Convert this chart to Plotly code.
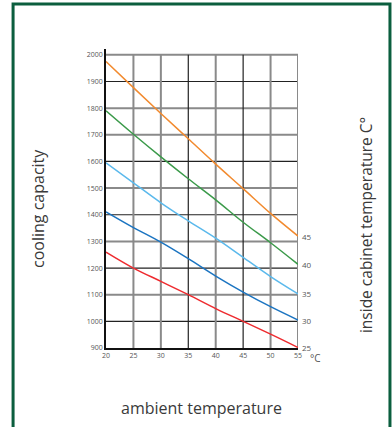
import plotly.graph_objects as go

ambient = [20, 25, 30, 35, 40, 45, 50, 55]
inside_temps = ["45", "40", "35", "30", "25"]
cap_45 = [1975, 1877, 1780, 1685, 1590, 1498, 1405, 1320]
cap_40 = [1790, 1702, 1617, 1535, 1456, 1372, 1295, 1214]
cap_35 = [1595, 1520, 1445, 1377, 1312, 1240, 1168, 1103]
cap_30 = [1411, 1352, 1297, 1235, 1170, 1110, 1055, 1005]
cap_25 = [1260, 1200, 1150, 1100, 1048, 1000, 952, 902]
series = [cap_45, cap_40, cap_35, cap_30, cap_25]
colors = ["#f28a2e", "#3b9a4a", "#5bb9ec", "#1b74c1", "#ee2b2f"]

y_ticks = [900, 1000, 1100, 1200, 1300, 1400, 1500, 1600, 1700, 1800, 1900, 2000]
y_grid_dark = [False, True, False, True, False, True, False, True, False, False, True, False]
x_grid_dark = [True, False, False, True, False, True, False, False]

fig = go.Figure()
font = "Open Sans, Noto Sans, sans-serif"

shapes = []
GRAY = dict(color="#8a8a8a", width=2)
DARK = dict(color="#222222", width=1.2)
for yv, dark in zip(y_ticks[1:], y_grid_dark[1:]):
    shapes.append(dict(type="line", xref="x", yref="y", x0=ambient[0], x1=ambient[-1],
                       y0=yv, y1=yv, line=DARK if dark else GRAY, layer="below"))
for xv, dark in zip(ambient[1:], x_grid_dark[1:]):
    shapes.append(dict(type="line", xref="x", yref="y", x0=xv, x1=xv,
                       y0=y_ticks[0], y1=y_ticks[-1], line=DARK if dark else GRAY, layer="below"))
# outer frame
shapes.append(dict(type="path", xref="paper", yref="paper",
                   path="M -0.484 -0.3 L -0.484 1.1505 L 1.479 1.1505 L 1.479 -0.3",
                   line=dict(color="#0b5e3e", width=3)))

annotations = []
for name, vals, c in zip(inside_temps, series, colors):
    fig.add_trace(go.Scatter(x=ambient, y=vals, mode="lines", line=dict(color=c, width=1.5),
                             line_shape="spline", showlegend=False, hoverinfo="skip"))
    annotations.append(dict(x=ambient[-1], y=vals[-1], xref="x", yref="y", text=name,
                            showarrow=False, xanchor="left", xshift=2,
                            font=dict(size=8, color="#555", family=font)))

annotations.append(dict(x=ambient[-1], y=y_ticks[0], xref="x", yref="y", text="°C", showarrow=False,
                        xanchor="left", yanchor="top", xshift=10, yshift=-1,
                        font=dict(size=10, color="#555", family=font)))
annotations.append(dict(x=-0.354, y=0.465, xref="paper", yref="paper", text="cooling capacity",
                        xanchor="center", yanchor="middle",
                        showarrow=False, textangle=-90, font=dict(size=16, color="#3a3a3a", family=font)))
annotations.append(dict(x=1.354, y=0.411, xref="paper", yref="paper", text="inside cabinet temperature C°",
                        xanchor="center", yanchor="middle",
                        showarrow=False, textangle=-90, font=dict(size=15.5, color="#3a3a3a", family=font)))
annotations.append(dict(x=0.495, y=-0.201, xref="paper", yref="paper", text="ambient temperature",
                        xanchor="center", yanchor="middle",
                        showarrow=False, font=dict(size=16, color="#3a3a3a", family=font)))

fig.update_layout(
    width=392, height=427,
    margin=dict(l=106, r=94, t=49, b=79),
    paper_bgcolor="white", plot_bgcolor="white",
    shapes=shapes, annotations=annotations,
    xaxis=dict(range=[20, 55], tickvals=ambient, showgrid=False, zeroline=False,
               showline=True, linecolor="#111", linewidth=1.5,
               tickfont=dict(size=7, color="#555", family=font), ticks=""),
    yaxis=dict(range=[900, 2022], tickvals=y_ticks, showgrid=False, zeroline=False,
               showline=True, linecolor="#111", linewidth=1.5,
               tickfont=dict(size=7, color="#555", family=font), ticks=""),
)

fig.write_html("out.html", config={"displayModeBar": False},
               post_script="document.body.style.margin='0';document.body.style.overflow='hidden';")
